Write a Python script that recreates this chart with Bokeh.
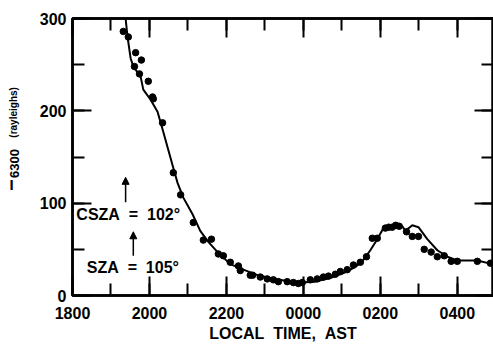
import numpy as np
from bokeh.plotting import figure
from bokeh.layouts import row
from bokeh.models import (LinearAxis, SingleIntervalTicker, Range1d, Label, Arrow,
                          NormalHead)
from bokeh.embed import file_html
from bokeh.resources import INLINE

# ---- data (local time in hours after 1800; 24 = 0000, 26 = 0200 ...) ----
dot_time = [19.32, 19.45, 19.61, 19.64, 19.74, 19.79, 19.97, 20.08, 20.10, 20.34,
            20.62, 20.81, 21.14, 21.40, 21.61, 21.79, 21.92, 22.10, 22.31, 22.36,
            22.62, 22.68, 22.88, 23.06, 23.22, 23.35, 23.58, 23.74, 23.87, 23.97,
            24.18, 24.36, 24.52, 24.65, 24.83, 24.96, 25.14, 25.30, 25.48, 25.64,
            25.79, 25.92, 26.13, 26.22, 26.31, 26.40, 26.49, 26.68, 26.83, 26.99,
            27.14, 27.32, 27.48, 27.66, 27.84, 28.00, 28.52, 28.86]
dot_intensity = [286, 280, 248, 263, 240, 255, 232, 215, 213, 187,
                 133, 109, 79, 60, 61, 45, 43, 36, 32, 27,
                 22, 22, 20, 18, 17, 15, 15, 14, 13, 14,
                 17, 18, 20, 21, 23, 26, 28, 33, 36, 42,
                 62, 62, 73, 74, 74, 76, 75, 69, 64, 64,
                 50, 47, 42, 43, 37, 37, 37, 35]

fit_time = [19.38, 19.43, 19.51, 19.58, 19.77, 19.84, 20.03, 20.21, 20.36, 20.62,
            20.73, 20.88, 21.12, 21.32, 21.53, 21.77, 22.10, 22.44, 22.81, 23.14,
            23.53, 23.92, 24.31, 24.70, 25.09, 25.35, 25.53, 25.74, 25.92, 26.08,
            26.34, 26.57, 26.65, 26.83, 26.99, 27.22, 27.48, 27.74, 28.00, 28.52,
            28.91]
fit_intensity = [300, 280, 257, 248, 237, 223, 212, 199, 177, 138,
                 122, 106, 88, 70, 58, 47, 34, 28, 22, 19,
                 16, 14, 15, 19, 25, 31, 37, 49, 61, 73,
                 75, 75, 70, 76, 74, 61, 49, 42, 38, 38,
                 34]

tick_labels = {18: "1800", 20: "2000", 22: "2200", 24: "0000", 26: "0200", 28: "0400"}
y_tick_labels = {0: "0", 100: "100", 200: "200", 300: "300"}

csza_time, csza_text = 19.38, "CSZA\u00a0\u00a0=\u00a0\u00a0102°"
sza_time, sza_text = 19.58, "SZA\u00a0\u00a0=\u00a0\u00a0105°"
x_title = "LOCAL\u00a0\u00a0TIME,\u00a0\u00a0AST"
y_title_main, y_title_sub, y_title_unit = "I", "6300", "(rayleighs)"

FONT = "Liberation Sans"
W, H = 493, 344
TITLE_W = 24

# ---------------- narrow strip holding the y-axis title ----------------
t = figure(width=TITLE_W, height=H, output_backend="svg", toolbar_location=None,
           x_range=Range1d(0, TITLE_W), y_range=Range1d(0, H),
           x_axis_location=None, y_axis_location=None,
           min_border_left=0, min_border_right=0, min_border_top=0,
           min_border_bottom=0)
t.grid.visible = False
t.outline_line_color = None
t.background_fill_color = "white"
t.border_fill_color = "white"

t.add_layout(Label(x=11, y=H - 206, text=y_title_main, text_font=FONT,
                   text_font_style="bold", text_font_size="15px", text_color="black",
                   text_align="center", text_baseline="middle"))
t.add_layout(Label(x=14, y=H - 198, text=y_title_sub, angle=np.pi / 2, text_font=FONT,
                   text_font_style="bold", text_font_size="13px", text_color="black",
                   text_align="left", text_baseline="middle"))
t.add_layout(Label(x=12.5, y=H - 148, text=y_title_unit, angle=np.pi / 2,
                   text_font=FONT, text_font_style="bold", text_font_size="10px",
                   text_color="black", text_align="left", text_baseline="middle"))

# ---------------- main chart ----------------
p = figure(width=W - TITLE_W, height=H, output_backend="svg", toolbar_location=None,
           x_range=Range1d(18, 28.94), y_range=Range1d(0, 300),
           x_axis_location=None, y_axis_location=None,
           min_border_left=72 - TITLE_W, min_border_right=0, min_border_top=18,
           min_border_bottom=45)
p.grid.visible = False
p.background_fill_color = "white"
p.border_fill_color = "white"
p.outline_line_color = "black"
p.outline_line_width = 2.5


def style(ax, labels=True):
    ax.axis_line_width = 2.5
    ax.axis_line_color = "black"
    ax.major_tick_in = 19
    ax.major_tick_out = 0
    ax.minor_tick_in = 12
    ax.minor_tick_out = 0
    ax.major_tick_line_width = 2
    ax.minor_tick_line_width = 2
    ax.major_tick_line_color = "black"
    ax.minor_tick_line_color = "black"
    if labels:
        ax.major_label_text_font = FONT
        ax.major_label_text_font_style = "bold"
        ax.major_label_text_font_size = "16px"
        ax.major_label_text_color = "black"
    else:
        ax.major_label_text_color = None
        ax.major_label_standoff = 0


xb = LinearAxis(ticker=SingleIntervalTicker(interval=2, num_minor_ticks=2))
style(xb)
xb.major_label_overrides = tick_labels
xb.major_label_standoff = 11
xb.axis_label = x_title
xb.axis_label_text_font = FONT
xb.axis_label_text_font_style = "bold"
xb.axis_label_text_font_size = "16px"
xb.axis_label_text_color = "black"
xb.axis_label_standoff = 3
p.add_layout(xb, "below")

xt = LinearAxis(ticker=SingleIntervalTicker(interval=2, num_minor_ticks=2))
style(xt, labels=False)
p.add_layout(xt, "above")

yl = LinearAxis(ticker=SingleIntervalTicker(interval=100, num_minor_ticks=2))
style(yl)
yl.major_label_overrides = y_tick_labels
yl.major_label_standoff = 6
p.add_layout(yl, "left")

yr = LinearAxis(ticker=SingleIntervalTicker(interval=100, num_minor_ticks=2))
style(yr, labels=False)
p.add_layout(yr, "right")

# fitted curve and observations
p.line(fit_time, fit_intensity, line_color="black", line_width=2)
p.scatter(dot_time, dot_intensity, size=6.5, color="black")

# annotations
p.add_layout(Label(x=18.10, y=87.5, text=csza_text, text_font=FONT,
                   text_font_style="bold", text_font_size="16px", text_color="black",
                   text_baseline="middle", text_align="left"))
p.add_layout(Label(x=18.37, y=30, text=sza_text, text_font=FONT,
                   text_font_style="bold", text_font_size="16px", text_color="black",
                   text_baseline="middle", text_align="left"))
p.add_layout(Arrow(x_start=csza_time, y_start=101, x_end=csza_time, y_end=128,
                   line_width=1.5, end=NormalHead(size=7, fill_color="black",
                                                  line_color="black")))
p.add_layout(Arrow(x_start=sza_time, y_start=43, x_end=sza_time, y_end=69,
                   line_width=1.5, end=NormalHead(size=7, fill_color="black",
                                                  line_color="black")))

layout = row(t, p, spacing=0)
open("out.html", "w").write(file_html(layout, INLINE))
